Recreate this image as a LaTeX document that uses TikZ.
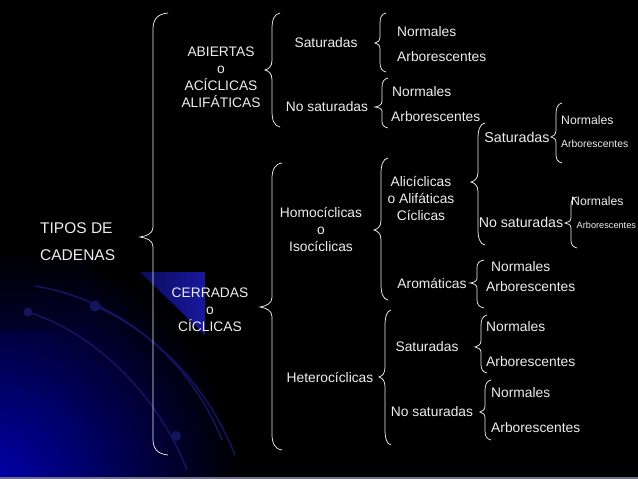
\documentclass[tikz,border=0pt]{standalone}
\usepackage{fontspec}
\setmainfont{Liberation Sans}
\definecolor{txt}{RGB}{238,238,238}
\definecolor{deepblue}{RGB}{0,0,175}
\definecolor{arcblue}{RGB}{20,20,95}
\definecolor{triblue}{RGB}{24,24,160}
\definecolor{tridark}{RGB}{12,12,90}
\definecolor{barcol}{RGB}{110,110,135}
\newcommand\cbr[6]{%
  \pgfmathsetmacro\ha{min(16,(#4-#2)/3)}%
  \pgfmathsetmacro\hb{min(16,(#3-#4)/3)}%
  \pgfmathsetmacro\ta{0.6*\ha}%
  \pgfmathsetmacro\tb{0.6*\hb}%
  \draw[bracestyle] ({#1+#6},#2) .. controls ({#1+0.25*#6},{#2+1}) and (#1,{#2+0.45*\ha}) .. (#1,{#2+\ha})
    -- (#1,{#4-\ta}) .. controls (#1,{#4-0.35*\ta}) and ({#1-0.5*#5},{#4-0.1*\ta}) .. ({#1-#5},#4)
    .. controls ({#1-0.5*#5},{#4+0.1*\tb}) and (#1,{#4+0.35*\tb}) .. (#1,{#4+\tb})
    -- (#1,{#3-\hb}) .. controls (#1,{#3-0.45*\hb}) and ({#1+0.25*#6},{#3-1}) .. ({#1+#6},#3);%
}
\tikzset{
  bracestyle/.style={draw=txt, line width=0.75pt},
  lbl/.style={text=txt, inner sep=0pt, font=\fontsize{13.8}{17}\selectfont, align=center},
  big/.style={lbl, font=\fontsize{15.5}{17}\selectfont},
  small/.style={lbl, font=\fontsize{12.2}{14}\selectfont},
  tiny/.style={lbl, font=\fontsize{10.4}{12}\selectfont},
}
\begin{document}
\begin{tikzpicture}[x=1pt, y=-1pt]
\useasboundingbox (0,0) rectangle (638,479);
% background
\fill[black] (0,0) rectangle (638,479);
\begin{scope}
  \clip (0,0) rectangle (638,479);
  \shade[inner color=deepblue, outer color=black] (-10,489) circle (250);
  \fill[black] (0,0) rectangle (638,270);
  \shade[top color=black, bottom color=black!75!deepblue] (0,250) rectangle (90,330);
  \shade[left color=tridark, right color=triblue] (140,272) -- (205,272) -- (205,335) -- cycle;
  \draw[arcblue, line width=1.5pt] (35,286) .. controls (120,300) and (190,360) .. (222,440);
  \draw[arcblue, line width=1.5pt] (28,312) .. controls (100,335) and (160,400) .. (187,470);
  \draw[arcblue, line width=1.5pt] (95,306) .. controls (150,330) and (205,380) .. (235,455);
  \fill[arcblue] (28,312) circle (4.5);
  \fill[arcblue] (95,306) circle (5.5);
  \fill[arcblue] (176,436) circle (5);
  \fill[barcol] (0,476.5) rectangle (638,479);
\end{scope}
% braces
\cbr{153}{13}{455}{237}{13}{15}
\cbr{272}{13}{127}{70}{7}{8}
\cbr{272}{163}{450}{307}{12}{10}
\cbr{380}{13}{72}{43}{5}{6}
\cbr{382}{78}{128}{107}{7}{6}
\cbr{381}{158}{300}{230}{7}{7}
\cbr{385}{310}{445}{377}{6}{6}
\cbr{478}{123}{245}{182}{7}{7}
\cbr{556}{103}{163}{137}{5}{6}
\cbr{571}{197}{248}{223}{6}{6}
\cbr{477}{260}{308}{283}{7}{7}
\cbr{481}{315}{373}{347}{6}{6}
\cbr{485}{380}{440}{412}{5}{6}
% labels
\node[big, anchor=west] (tipos) at (40,228) {TIPOS DE};
\node[big, anchor=west] (cadenas) at (40,255) {CADENAS};
\node[lbl] (abiertas) at (221,77) {ABIERTAS\\o\\ACÍCLICAS\\ALIFÁTICAS};
\node[lbl] (cerradas) at (210,310) {CERRADAS\\o\\CÍCLICAS};
\node[lbl] (sat1) at (326,43) {Saturadas};
\node[lbl] (nosat1) at (327,107) {No saturadas};
\node[lbl, anchor=west] (n1) at (397,32) {Normales};
\node[lbl, anchor=west] (a1) at (397,57) {Arborescentes};
\node[lbl, anchor=west] (n2) at (392,92) {Normales};
\node[lbl, anchor=west] (a2) at (391,117) {Arborescentes};
\node[lbl] (homo) at (321,229) {Homocíclicas\\o\\Isocíclicas};
\node[lbl] (hetero) at (330,377) {Heterocíclicas};
\node[lbl] (alic) at (421,198) {Alicíclicas\\o Alifáticas\\Cíclicas};
\node[lbl, font=\fontsize{14.3}{17}\selectfont] (sat2) at (517,137) {Saturadas};
\node[small, anchor=west] (n3) at (561,120) {Normales};
\node[tiny, anchor=west] (a3) at (561,144) {Arborescentes};
\node[lbl, font=\fontsize{14.2}{17}\selectfont] (nosat2) at (521,222) {No saturadas};
\node[small, anchor=west] (n4) at (571,201) {Normales};
\node[tiny, font=\fontsize{9.2}{12}\selectfont, anchor=west] (a4) at (576.5,225) {Arborescentes};
\node[lbl] (arom) at (432,283) {Aromáticas};
\node[lbl, anchor=west] (n5) at (491,267) {Normales};
\node[lbl, anchor=west] (a5) at (486,287) {Arborescentes};
\node[lbl] (sat3) at (427,347) {Saturadas};
\node[lbl, anchor=west] (n6) at (486,327) {Normales};
\node[lbl, anchor=west] (a6) at (486,362) {Arborescentes};
\node[lbl] (nosat3) at (432,412) {No saturadas};
\node[lbl, anchor=west] (n7) at (491,393) {Normales};
\node[lbl, anchor=west] (a7) at (491,428) {Arborescentes};
\end{tikzpicture}
\end{document}
